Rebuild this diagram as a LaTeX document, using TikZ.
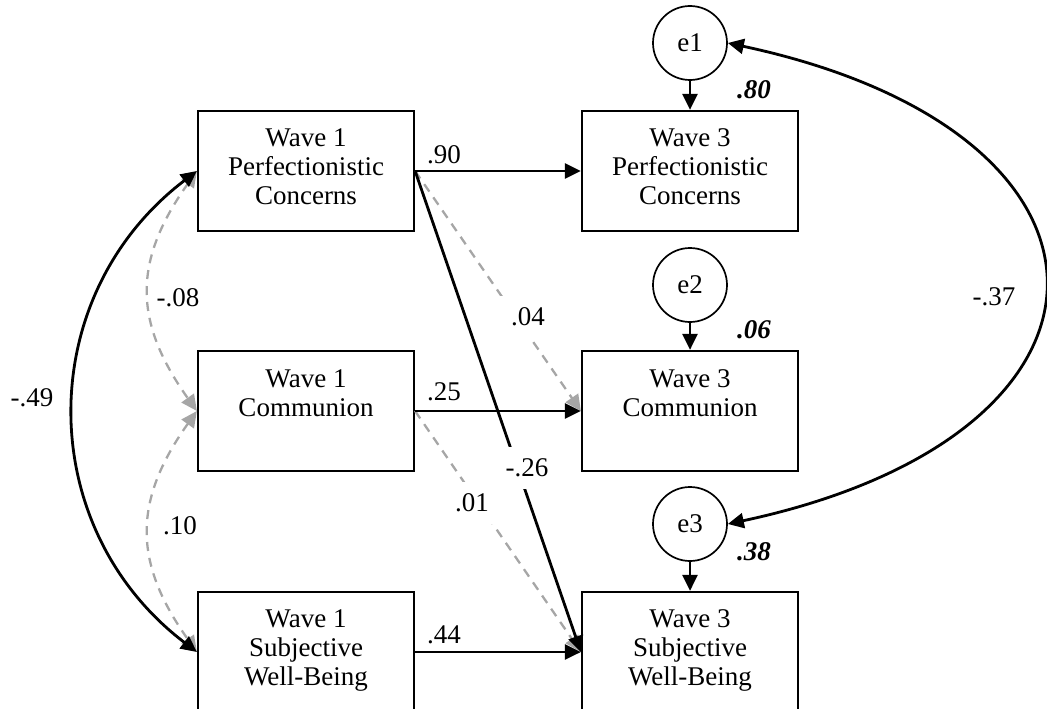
\documentclass[tikz,border=0pt]{standalone}
\usepackage{fontspec}
\setmainfont{Liberation Serif}
\usetikzlibrary{arrows.meta}
\definecolor{custom-gray}{RGB}{166,166,166}

\begin{document}
\begin{tikzpicture}[x=1pt,y=-1pt,
    font=\fontsize{27}{29}\selectfont,
    var/.style={draw, line width=2.2pt, minimum width=216pt, minimum height=120pt, align=center, inner sep=0pt, text depth=8pt},
    twoline/.style={text depth=36pt},
    err/.style={draw, circle, line width=1.7pt, minimum size=74pt, inner sep=0pt},
    est/.style={line width=2.8pt, -{Triangle[length=16pt,width=15pt]}},
    nsest/.style={custom-gray, line width=2.3pt, dash pattern=on 9pt off 7pt, -{Triangle[length=16pt,width=15pt]}},
    cov/.style={line width=2.8pt, {Triangle[length=16pt,width=15pt]}-{Triangle[length=16pt,width=15pt]}},
    nscov/.style={custom-gray, line width=2.3pt, dash pattern=on 9pt off 7pt, {Triangle[length=16pt,width=15pt]}-{Triangle[length=16pt,width=15pt]}},
    coef/.style={inner sep=0pt},
    gapcoef/.style={fill=white, inner sep=12pt},
    rsq/.style={font=\fontsize{27}{29}\selectfont\bfseries\itshape, inner sep=0pt}]
\useasboundingbox (0,0) rectangle (1047,709);
\node[var] (w1pc) at (306,171) {Wave 1\\Perfectionistic\\Concerns};
\node[var, twoline] (w1com) at (306,411) {Wave 1\\Communion};
\node[var] (w1swb) at (306,652) {Wave 1\\Subjective\\Well-Being};
\node[var] (w3pc) at (690,171) {Wave 3\\Perfectionistic\\Concerns};
\node[var, twoline] (w3com) at (690,411) {Wave 3\\Communion};
\node[var] (w3swb) at (690,652) {Wave 3\\Subjective\\Well-Being};
\node[err] (e1) at (690,43) {e1};
\node[err] (e2) at (690,285) {e2};
\node[err] (e3) at (690,524) {e3};
\draw[nsest] (w1pc.east) -- (w3com.west);
\draw[nsest] (w1com.east) -- (w3swb.west);
\draw[nscov] (w1pc.west) .. controls +(-64,90) and +(-64,-90) .. (w1com.west);
\draw[nscov] (w1com.west) .. controls +(-64,90) and +(-64,-90) .. (w1swb.west);
\draw[est] (w1pc.east) -- (w3pc.west);
\draw[est] (w1com.east) -- (w3com.west);
\draw[est] (w1swb.east) -- (w3swb.west);
\draw[est] (w1pc.east) -- (w3swb.west);
\draw[est] (e1) -- (w3pc);
\draw[est] (e2) -- (w3com);
\draw[est] (e3) -- (w3swb);
\draw[cov] (w1pc.west) .. controls +(-164,125) and +(-164,-125) .. (w1swb.west);
\draw[cov] (e1.east) .. controls +(421,90) and +(421,-90) .. (e3.east);
\node[coef] (c90) at (444,155) {.90};
\node[coef] (c25) at (444,392) {.25};
\node[coef] (c44) at (444,635) {.44};
\node[gapcoef] (c04) at (528,317) {.04};
\node[gapcoef] (c26) at (527,468) {-.26};
\node[gapcoef] (c01) at (472,503) {.01};
\node[coef] (c08) at (178,298) {-.08};
\node[coef] (c10) at (180,526) {.10};
\node[coef] (c49) at (32,398) {-.49};
\node[coef] (c37) at (994,297) {-.37};
\node[rsq] (r2pc) at (754,90) {.80};
\node[rsq] (r2com) at (754,330) {.06};
\node[rsq] (r2swb) at (754,552) {.38};
\end{tikzpicture}
\end{document}
